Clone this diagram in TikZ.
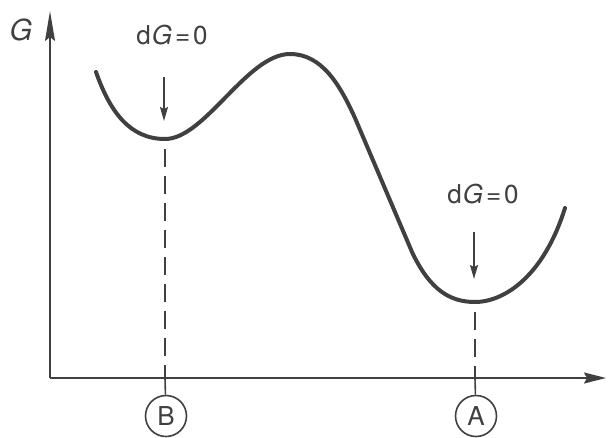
\documentclass[tikz,border=0pt]{standalone}
\usepackage{fontspec}
\setmainfont{TeX Gyre Heros}
\usetikzlibrary{arrows.meta}
\definecolor{ink}{RGB}{64,64,64}
\tikzset{
  axis/.style={draw=ink, line width=1.6pt},
  curve/.style={draw=ink, line width=4pt, line cap=round},
  guide/.style={draw=ink, line width=1.6pt, dash pattern=on 18pt off 9pt},
  marker/.style={draw=ink, line width=1.6pt, -{Stealth[length=14pt,width=8pt,inset=2pt]}},
  lbl/.style={text=ink, font=\fontsize{26}{30}\selectfont, inner sep=0pt},
  state/.style={draw=ink, circle, line width=1.6pt, minimum size=41pt, inner sep=0pt, text=ink, font=\fontsize{26}{30}\selectfont}
}
\begin{document}
\begin{tikzpicture}[x=1pt,y=-1pt]
\useasboundingbox (0,0) rectangle (608,437);
% axes
\coordinate (O) at (50,378);
\coordinate (ytip) at (50,11);
\coordinate (xtip) at (606,378);
\draw[axis, -{Stealth[length=30pt,width=10pt,inset=4pt]}] (O) -- (ytip);
\draw[axis, -{Stealth[length=22pt,width=11pt,inset=3pt]}] (O) -- (xtip);
\node[lbl, font=\fontsize{29}{32}\selectfont\itshape] (Glab) at (21,30) {G};
% curve
\coordinate (mB) at (165,139);
\coordinate (mA) at (475,302);
\draw[curve] (96,72) .. controls (110,112) and (130,139) .. (mB)
  .. controls (205,139) and (247,54) .. (290,54)
  .. controls (322,54) and (340,85) .. (355,118)
  -- (412,252)
  .. controls (430,290) and (450,302) .. (mA)
  .. controls (503,302) and (543,278) .. (565,208);
% guides
\coordinate (xB) at (165,378);
\coordinate (xA) at (475,378);
\node[state] (B) at (166,416) {B};
\node[state] (A) at (476,416) {A};
\draw[guide] (mB) ++(0,10) coordinate (gB) (gB) -- (xB);
\draw[guide] (mA) ++(0,10) coordinate (gA) (gA) -- (xA);
\draw[axis] (xB) -- (B);
\draw[axis] (xA) -- (A);
% markers
\node[lbl] (dB) at (172,35) {d\kern1pt\textit{G}\kern3pt=\kern3pt0};
\node[lbl] (dA) at (483,194) {d\kern1pt\textit{G}\kern3pt=\kern3pt0};
\coordinate (aB0) at (164,77);
\coordinate (aB1) at (164,121);
\coordinate (aA0) at (474,232);
\coordinate (aA1) at (474,279);
\draw[marker] (aB0) -- (aB1);
\draw[marker] (aA0) -- (aA1);
\end{tikzpicture}
\end{document}
